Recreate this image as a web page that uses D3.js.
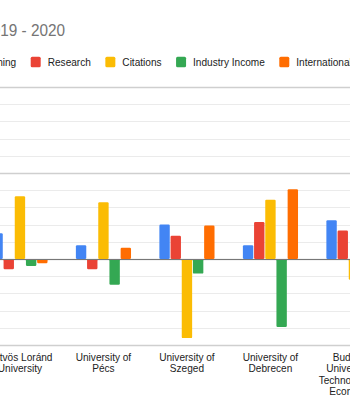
<!DOCTYPE html>
<html>
<head>
<meta charset="utf-8">
<script src="https://cdn.jsdelivr.net/npm/d3@7"></script>
<style>
  body { margin: 0; background: #fff; }
  svg { display: block; font-family: Arial, "Liberation Sans", sans-serif; }
</style>
</head>
<body>
<div id="container"></div>
<script>
/* data */
const categories = ["Eötvös Loránd University", "University of Pécs", "University of Szeged",
                    "University of Debrecen", "Budapest University of Technology and Economics"];
const seriesNames = ["Teaching", "Research", "Citations", "Industry Income", "International Outlook"];
const teaching      = [3.0, 1.6, 4.0, 1.6, 4.5];
const research      = [-1.2, -1.2, 2.7, 4.3, 3.3];
const citations     = [7.3, 6.6, -9.2, 6.9, -2.4];
const industry      = [-0.8, -3.0, -1.7, -7.9, -1.0];
const international = [-0.5, 1.3, 3.9, 8.1, 1.5];
const yTicks = [-10, -8, -6, -4, -2, 0, 2, 4, 6, 8, 10, 12, 14, 16, 18, 20];
const titlePrefix = "20", titleRest = "19 - 2020";

/* layout */
const width = 350, height = 420;
const colors = ["#4285f4", "#ea4335", "#fbbc04", "#34a853", "#ff6d01"];
const squish = 0.87; // text in the picture is a bit narrow

const seriesValues = [teaching, research, citations, industry, international];
const rows = categories.map((c, i) => ({
  cat: c,
  vals: seriesNames.map((s, j) => ({ key: s, value: seriesValues[j][i] }))
}));

const svg = d3.select("#container").append("svg")
  .attr("width", width).attr("height", height);

// scales
const x0 = d3.scaleBand()
  .domain(categories)
  .range([-21.8, -21.8 + 83.5 * 5])
  .paddingInner(0.33)
  .paddingOuter(0.165);
const x1 = d3.scaleBand()
  .domain(seriesNames)
  .range([0, x0.bandwidth()]);
const y = d3.scaleLinear()
  .domain([-10, 20])
  .range([345, 87]);
const color = d3.scaleOrdinal().domain(seriesNames).range(colors);

// gridlines
svg.append("g").selectAll("line")
  .data(yTicks)
  .join("line")
  .attr("x1", 0).attr("x2", width)
  .attr("y1", d => Math.round(y(d)) + 0.5)
  .attr("y2", d => Math.round(y(d)) + 0.5)
  .attr("stroke", d => d % 10 === 0 ? "#cfcfcf" : "#ebebeb")
  .attr("stroke-width", d => d % 10 === 0 ? 1.5 : 1);

// bars
const groups = svg.append("g").selectAll("g")
  .data(rows)
  .join("g")
  .attr("transform", d => `translate(${x0(d.cat)},0)`);

groups.selectAll("rect")
  .data(d => d.vals)
  .join("rect")
  .attr("x", d => x1(d.key) + 0.4)
  .attr("width", x1.bandwidth() - 0.8)
  .attr("y", d => y(Math.max(0, d.value)))
  .attr("height", d => Math.abs(y(d.value) - y(0)))
  .attr("rx", 1.2)
  .attr("fill", d => color(d.key));

// zero baseline
svg.append("line")
  .attr("x1", 0).attr("x2", width)
  .attr("y1", Math.round(y(0)) + 0.5).attr("y2", Math.round(y(0)) + 0.5)
  .attr("stroke", "#777").attr("stroke-width", 1);

// helper for squished text
function addText(parent, x, yy, str, size, fill, anchor, sq) {
  const g = parent.append("g").attr("transform", `translate(${x},${yy}) scale(${sq || squish},1)`);
  return g.append("text")
    .attr("font-size", size)
    .attr("fill", fill)
    .attr("text-anchor", anchor || "start")
    .text(str);
}

// title: the start of it runs off the left edge
const titleSq = 0.93, titleSize = 16.5;
const probeT = svg.append("text").attr("font-size", titleSize).text(titlePrefix);
const prefixW = probeT.node().getComputedTextLength() * titleSq;
probeT.remove();
addText(svg, 0.3 - prefixW, 35.5, titlePrefix + titleRest, titleSize, "#757575", "start", titleSq);

// legend
const legend = svg.append("g");
const legendTexts = seriesNames.map(s => {
  const t = addText(legend, 0, 0, s, 11.6, "#222");
  return t.node().getComputedTextLength() * squish;
});
legend.selectAll("g").remove();

// start from Research at x=30.7, Teaching goes to the left
const gapSq = 17, gapItem = 14.5;
let xs = [];
xs[1] = 30.7;
xs[0] = xs[1] - gapItem - legendTexts[0] - gapSq;
for (let i = 2; i < seriesNames.length; i++) {
  xs[i] = xs[i - 1] + gapSq + legendTexts[i - 1] + gapItem;
}
seriesNames.forEach((s, i) => {
  legend.append("rect")
    .attr("x", xs[i]).attr("y", 56.7)
    .attr("width", 10).attr("height", 10.5)
    .attr("rx", 1.5)
    .attr("fill", color(s));
  addText(legend, xs[i] + gapSq, 65.7, s, 11.6, "#222");
});

// category labels, wrapped
const labelSize = 11.6, lineH = 11.5, maxW = 80;
const labels = svg.append("g");
categories.forEach(c => {
  const cx = x0(c) + x0.bandwidth() / 2;
  const words = c.split(" ");
  const lines = [];
  let cur = "";
  const probe = labels.append("text").attr("font-size", labelSize);
  words.forEach(w => {
    const test = cur ? cur + " " + w : w;
    probe.text(test);
    if (probe.node().getComputedTextLength() * squish > maxW && cur) {
      lines.push(cur);
      cur = w;
    } else {
      cur = test;
    }
  });
  lines.push(cur);
  probe.remove();
  lines.forEach((ln, k) => {
    addText(labels, cx, 360.5 + k * lineH, ln, labelSize, "#222", "middle");
  });
});
</script>
</body>
</html>
